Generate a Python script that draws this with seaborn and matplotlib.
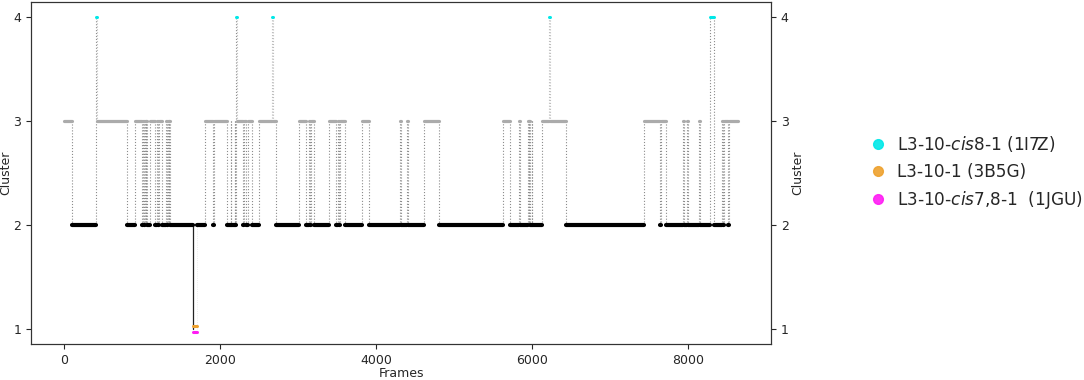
import numpy as np
import pandas as pd
import matplotlib
matplotlib.use("Agg")
import matplotlib.pyplot as plt
import seaborn as sns
from matplotlib.lines import Line2D

# Run-length encoded cluster trajectory: each run covers [start, end) frames
seg_start = [0, 100, 410, 422, 800, 905, 1000, 1015, 1025, 1035, 1045, 1050, 1060, 1100,
             1160, 1195, 1205, 1220, 1255, 1310, 1320, 1330, 1345, 1350, 1360, 1655, 1700,
             1800, 1915, 1925, 2085, 2135, 2142, 2185, 2192, 2210, 2222, 2290, 2300, 2335,
             2360, 2410, 2500, 2668, 2682, 2720, 3010, 3100, 3140, 3150, 3165, 3210, 3400,
             3490, 3510, 3520, 3540, 3605, 3815, 3915, 4305, 4315, 4395, 4405, 4610, 4810,
             5630, 5720, 5835, 5845, 5945, 5955, 5965, 5975, 5995, 6005, 6125, 6215, 6225,
             6430, 7430, 7645, 7655, 7720, 7935, 7945, 7990, 8000, 8145, 8155, 8285, 8330,
             8435, 8445, 8460, 8510, 8520]
seg_end = seg_start[1:] + [8645]
seg_cluster = [3, 2, 4, 3, 2, 3, 2, 3, 2, 3, 2, 3, 2, 3,
               2, 3, 2, 3, 2, 3, 2, 3, 2, 3, 2, 1, 2,
               3, 2, 3, 2, 3, 2, 3, 2, 4, 3, 2, 3, 2,
               3, 2, 3, 4, 3, 2, 3, 2, 3, 2, 3, 2, 3,
               2, 3, 2, 3, 2, 3, 2, 3, 2, 3, 2, 3, 2,
               3, 2, 3, 2, 3, 2, 3, 2, 3, 2, 3, 4, 3,
               2, 3, 2, 3, 2, 3, 2, 3, 2, 3, 2, 4, 2,
               3, 2, 3, 2, 3]

ref_labels = [r"L3-10-$\mathit{cis8}$-1 (1I7Z)",
              r"L3-10-1 (3B5G)",
              r"L3-10-$\mathit{cis7{,}8}$-1  (1JGU)"]
ref_colors = ["#00e8e8", "#eea12d", "#ff1cf4"]

yticks = [1, 2, 3, 4]

# ---------- build tidy frames ----------
h_rows = []
for i, (s, e, c) in enumerate(zip(seg_start, seg_end, seg_cluster)):
    h_rows.append((i, s, c, c))
    h_rows.append((i, e, c, c))
hdf = pd.DataFrame(h_rows, columns=["seg", "frame", "level", "cluster"])

v_rows = []
for i in range(len(seg_cluster) - 1):
    x = seg_end[i]
    a, b = seg_cluster[i], seg_cluster[i + 1]
    kind = "down1" if b == 1 else ("up1" if a == 1 else ("c4" if max(a, b) == 4 and min(a, b) == 3 else "mid"))
    v_rows.append((i, x, a, kind))
    v_rows.append((i, x, b, kind))
vdf = pd.DataFrame(v_rows, columns=["tr", "frame", "level", "kind"])

sns.set_style("ticks")
plt.rcParams["font.family"] = ["DejaVu Sans"]
plt.rcParams["mathtext.fontset"] = "dejavusans"

fig = plt.figure(figsize=(10.84, 3.80), dpi=100)
ax = fig.add_axes([0.0286, 0.0947, 0.6827, 0.9000])

# transitions (dotted verticals)
sns.lineplot(data=vdf[vdf.kind == "mid"], x="frame", y="level", units="tr", estimator=None,
             sort=False, color="#8c8c8c", lw=0.8, linestyle=":", ax=ax, zorder=1)
sns.lineplot(data=vdf[vdf.kind == "c4"], x="frame", y="level", units="tr", estimator=None,
             sort=False, color="#bdbdbd", lw=0.8, linestyle=":", ax=ax, zorder=1)
sns.lineplot(data=vdf[vdf.kind == "up1"], x="frame", y="level", units="tr", estimator=None,
             sort=False, color="#e6e6e6", lw=0.6, linestyle=":", ax=ax, zorder=1)
sns.lineplot(data=vdf[vdf.kind == "down1"], x="frame", y="level", units="tr", estimator=None,
             sort=False, color="#222222", lw=0.9, ax=ax, zorder=1)

# horizontal runs
sns.lineplot(data=hdf[hdf.cluster == 3], x="frame", y="level", units="seg", estimator=None,
             sort=False, color="#ababab", lw=2.3, ax=ax, zorder=2)
sns.lineplot(data=hdf[hdf.cluster == 2], x="frame", y="level", units="seg", estimator=None,
             sort=False, color="black", lw=3.0, ax=ax, zorder=3)
sns.lineplot(data=hdf[hdf.cluster == 4], x="frame", y="level", units="seg", estimator=None,
             sort=False, color=ref_colors[0], lw=2.2, ax=ax, zorder=4)
c1 = hdf[hdf.cluster == 1]
sns.lineplot(x=c1["frame"].values, y=c1["level"].values + 0.03, units=c1["seg"].values,
             estimator=None, sort=False, color=ref_colors[1], lw=2.2, ax=ax, zorder=4)
sns.lineplot(x=c1["frame"].values, y=c1["level"].values - 0.025, units=c1["seg"].values,
             estimator=None, sort=False, color=ref_colors[2], lw=2.2, ax=ax, zorder=4)

ax.set_xlim(-425, 9065)
ax.set_ylim(0.856, 4.144)
ax.set_yticks(yticks)
ax.set_xlabel("Frames", fontsize=9, labelpad=0.5)
ax.set_ylabel("Cluster", fontsize=9, labelpad=0.5)
ax.tick_params(labelsize=9, length=3.5, width=0.8)

ax2 = ax.twinx()
ax2.set_ylim(ax.get_ylim())
ax2.set_yticks(yticks)
ax2.set_ylabel("Cluster", fontsize=9, labelpad=2)
ax2.tick_params(labelsize=9, length=3.5, width=0.8)

for a in (ax, ax2):
    for sp in a.spines.values():
        sp.set_color("#333333")
        sp.set_linewidth(0.8)

handles = [Line2D([], [], marker="o", linestyle="none", markersize=7,
                  markerfacecolor=c, markeredgecolor=c, alpha=0.9) for c in ref_colors]
fig.legend(handles, ref_labels, loc="center left", bbox_to_anchor=(0.7885, 0.545),
           frameon=False, fontsize=12.2, handlelength=1.0, handletextpad=0.6,
           labelspacing=0.5, borderpad=0.4)

fig.savefig("out.png", dpi=100)
